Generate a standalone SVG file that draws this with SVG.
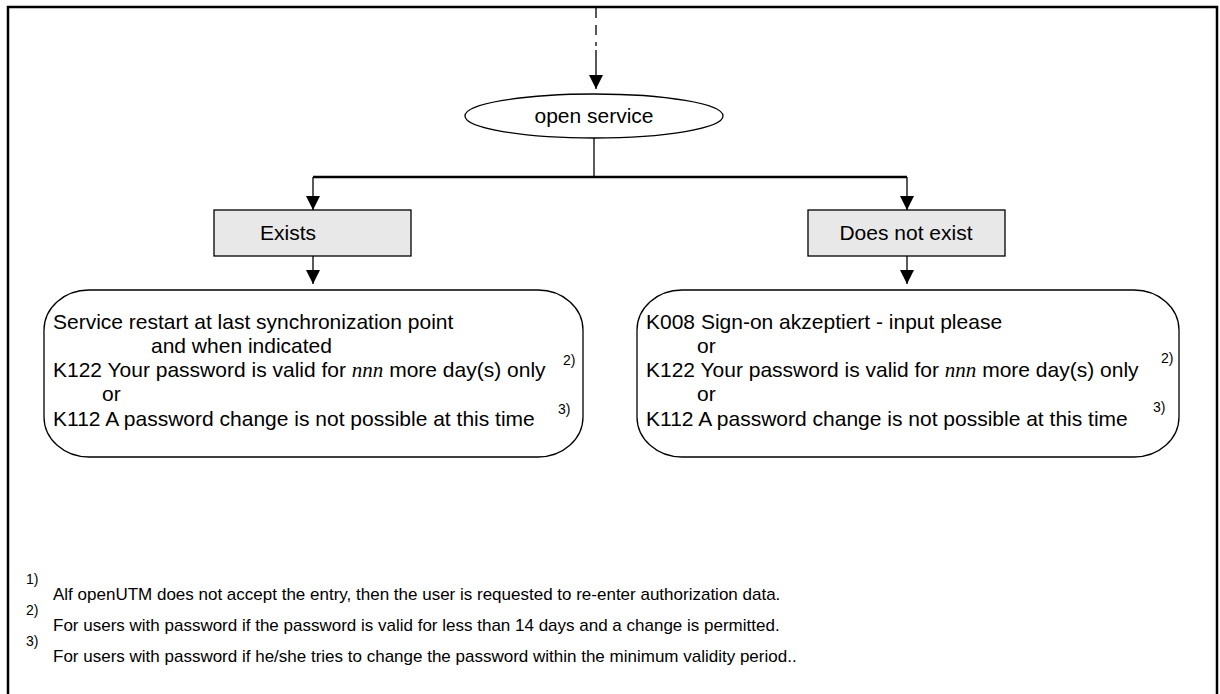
<svg xmlns="http://www.w3.org/2000/svg" width="1220" height="694" viewBox="0 0 1220 694">
<defs>
<marker id="arr" viewBox="0 0 10 10" refX="10" refY="5" markerWidth="14" markerHeight="14" markerUnits="userSpaceOnUse" orient="auto">
<path d="M0,0 L10,5 L0,10 z" fill="#000"/>
</marker>
</defs>
<style>
text{font-family:"Liberation Sans",Arial,sans-serif;fill:#000}
.t{font-size:21px}
.f{font-size:17px}
.s{font-size:14px}
.n{font-family:"Liberation Serif","Times New Roman",serif;font-style:italic}
.ln{stroke:#000;fill:none;stroke-width:1.3}
.thk{stroke:#000;fill:none;stroke-width:2.5}
.box{fill:#e8e8e8;stroke:#000;stroke-width:1.3}
.rbox{fill:#fff;stroke:#000;stroke-width:1.3}
</style>
<rect width="1220" height="694" fill="#fff"/>
<path class="thk" d="M8,700 V7 H1217 V700"/>
<g id="connectors">
<path class="ln" d="M596,7 V18 M596,25 V35 M596,42 V46 M596,50 V89" marker-end="url(#arr)"/>
<path class="ln" d="M594,138 V177"/>
<path class="thk" d="M313,177 H907"/>
<path class="ln" d="M313,177 V210" marker-end="url(#arr)"/>
<path class="ln" d="M907,177 V210" marker-end="url(#arr)"/>
<path class="ln" d="M313,256 V284" marker-end="url(#arr)"/>
<path class="ln" d="M907,256 V284" marker-end="url(#arr)"/>
</g>
<g id="open-service">
<ellipse class="ln" cx="594" cy="116" rx="129" ry="22" fill="#fff"/>
<text class="t" x="594" y="123" text-anchor="middle">open service</text>
</g>
<g id="exists">
<rect class="box" x="214" y="210" width="197" height="46"/>
<text class="t" x="288" y="240" text-anchor="middle">Exists</text>
</g>
<g id="does-not-exist">
<rect class="box" x="808" y="210" width="197" height="46"/>
<text class="t" x="906" y="240" text-anchor="middle">Does not exist</text>
</g>
<g id="result-exists">
<rect class="rbox" x="44" y="290" width="539" height="167" rx="45" ry="40"/>
<text class="t" x="53" y="329">Service restart at last synchronization point</text>
<text class="t" x="151" y="353">and when indicated</text>
<text class="t" x="53" y="377">K122 Your password is valid for <tspan class="n">nnn</tspan> more day(s) only</text>
<text class="s" x="563" y="365">2)</text>
<text class="t" x="102" y="401">or</text>
<text class="t" x="53" y="426">K112 A password change is not possible at this time</text>
<text class="s" x="558" y="414">3)</text>
</g>
<g id="result-not-exist">
<rect class="rbox" x="637" y="290" width="542" height="167" rx="45" ry="40"/>
<text class="t" x="646" y="329">K008 Sign-on akzeptiert - input please</text>
<text class="t" x="697" y="353">or</text>
<text class="t" x="646" y="377">K122 Your password is valid for <tspan class="n">nnn</tspan> more day(s) only</text>
<text class="s" x="1161" y="363">2)</text>
<text class="t" x="697" y="401">or</text>
<text class="t" x="646" y="426">K112 A password change is not possible at this time</text>
<text class="s" x="1153" y="412">3)</text>
</g>
<g id="footnotes">
<text class="s" x="26" y="584">1)</text>
<text class="f" x="53" y="600">Alf openUTM does not accept the entry, then the user is requested to re-enter authorization data.</text>
<text class="s" x="26" y="615">2)</text>
<text class="f" x="53" y="631">For users with password if the password is valid for less than 14 days and a change is permitted.</text>
<text class="s" x="26" y="646">3)</text>
<text class="f" x="53" y="662">For users with password if he/she tries to change the password within the minimum validity period..</text>
</g>
</svg>
